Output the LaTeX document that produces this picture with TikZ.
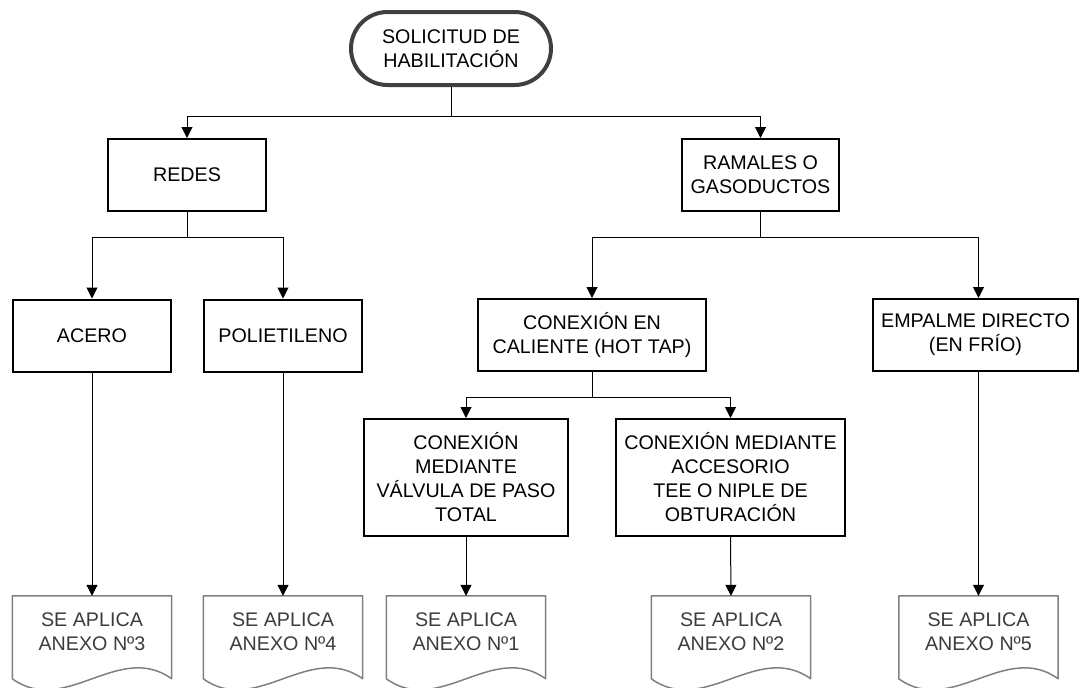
\documentclass[tikz,border=0pt]{standalone}
\usepackage{fontspec}
\setmainfont{Liberation Sans}
\usetikzlibrary{arrows.meta,calc}
\definecolor{docgray}{HTML}{808080}
\definecolor{termgray}{HTML}{404040}
\definecolor{doctext}{HTML}{3C3C3C}
\begin{document}
\begin{tikzpicture}[x=1pt,y=-1pt,
  every node/.style={font=\fontsize{19.7}{24}\selectfont, align=center, inner sep=0pt, text=black},
  terminal/.style={draw=termgray, line width=4pt, rounded corners=36.5pt, minimum width=200pt, minimum height=73pt},
  procbox/.style={draw=black, line width=2pt, minimum height=72pt},
  docnode/.style={minimum width=159pt, minimum height=72pt, text=doctext},
  docline/.style={draw=docgray, line width=1.5pt, line join=round},
  conn/.style={draw=black, line width=1pt},
  arr/.style={conn, -{Triangle[length=11pt,width=11pt]}}
]
\useasboundingbox (0,0) rectangle (1080,688);
\clip (0,0) rectangle (1080,688);

% nodes
\node[terminal] (term) at (451,48.5) {SOLICITUD DE\\HABILITACIÓN};
\node[procbox, minimum width=158pt] (redes) at (187,175) {REDES};
\node[procbox, minimum width=157pt] (ram) at (760.5,175) {RAMALES O\\GASODUCTOS};
\node[procbox, minimum width=158pt] (acero) at (92,335.5) {ACERO};
\node[procbox, minimum width=158pt] (poli) at (283,335.5) {POLIETILENO};
\node[procbox, minimum width=228pt] (hot) at (592,335) {CONEXIÓN EN\\CALIENTE (HOT TAP)};
\node[procbox, minimum width=205pt] (emp) at (975.5,335) {EMPALME DIRECTO\\(EN FRÍO)};
\node[procbox, minimum width=204pt, minimum height=117pt] (valv) at (466,477.5) {CONEXIÓN\\MEDIANTE\\VÁLVULA DE PASO\\TOTAL};
\node[procbox, minimum width=229pt, minimum height=117pt] (acc) at (730.5,477.5) {CONEXIÓN MEDIANTE\\ACCESORIO\\TEE O NIPLE DE\\OBTURACIÓN};

\node[docnode] (doc1) at (92,632) {SE APLICA\\ANEXO Nº3};
\node[docnode] (doc2) at (283,632) {SE APLICA\\ANEXO Nº4};
\node[docnode] (doc3) at (466,632) {SE APLICA\\ANEXO Nº1};
\node[docnode] (doc4) at (731,632) {SE APLICA\\ANEXO Nº2};
\node[docnode] (doc5) at (978.5,632) {SE APLICA\\ANEXO Nº5};

% document outlines
\foreach \d in {doc1,doc2,doc3,doc4,doc5}{
  \draw[docline] ($(\d.north west)+(0,47)$) -- (\d.north west) -- (\d.north east)
    -- ($(\d.north east)+(0,83)$)
    .. controls ($(\d.north east)+(-53,45)$) and ($(\d.north west)+(53,121)$) ..
    ($(\d.north west)+(0,83)$) -- cycle;
}

% connectors
\draw[arr] (term.south) -- ++(0,29) -| (redes.north);
\draw[arr] (term.south) -- ++(0,29) -| (ram.north);
\draw[arr] (redes.south) -- ++(0,25) -| (acero.north);
\draw[arr] (redes.south) -- ++(0,25) -| (poli.north);
\draw[arr] (ram.south) -- ++(0,25) -| (hot.north);
\draw[arr] (ram.south) -- ++(0,25) -| (doc5.north |- emp.north);
\draw[arr] (hot.south) -- ++(0,25) -| (valv.north);
\draw[arr] (hot.south) -- ++(0,25) -| (acc.north);
\draw[arr] (acero.south) -- (doc1.north);
\draw[arr] (poli.south) -- (doc2.north);
\draw[arr] (valv.south) -- (doc3.north);
\draw[arr] (acc.south) -- (doc4.north);
\draw[arr] (emp.south -| doc5.north) -- (doc5.north);
\end{tikzpicture}
\end{document}
